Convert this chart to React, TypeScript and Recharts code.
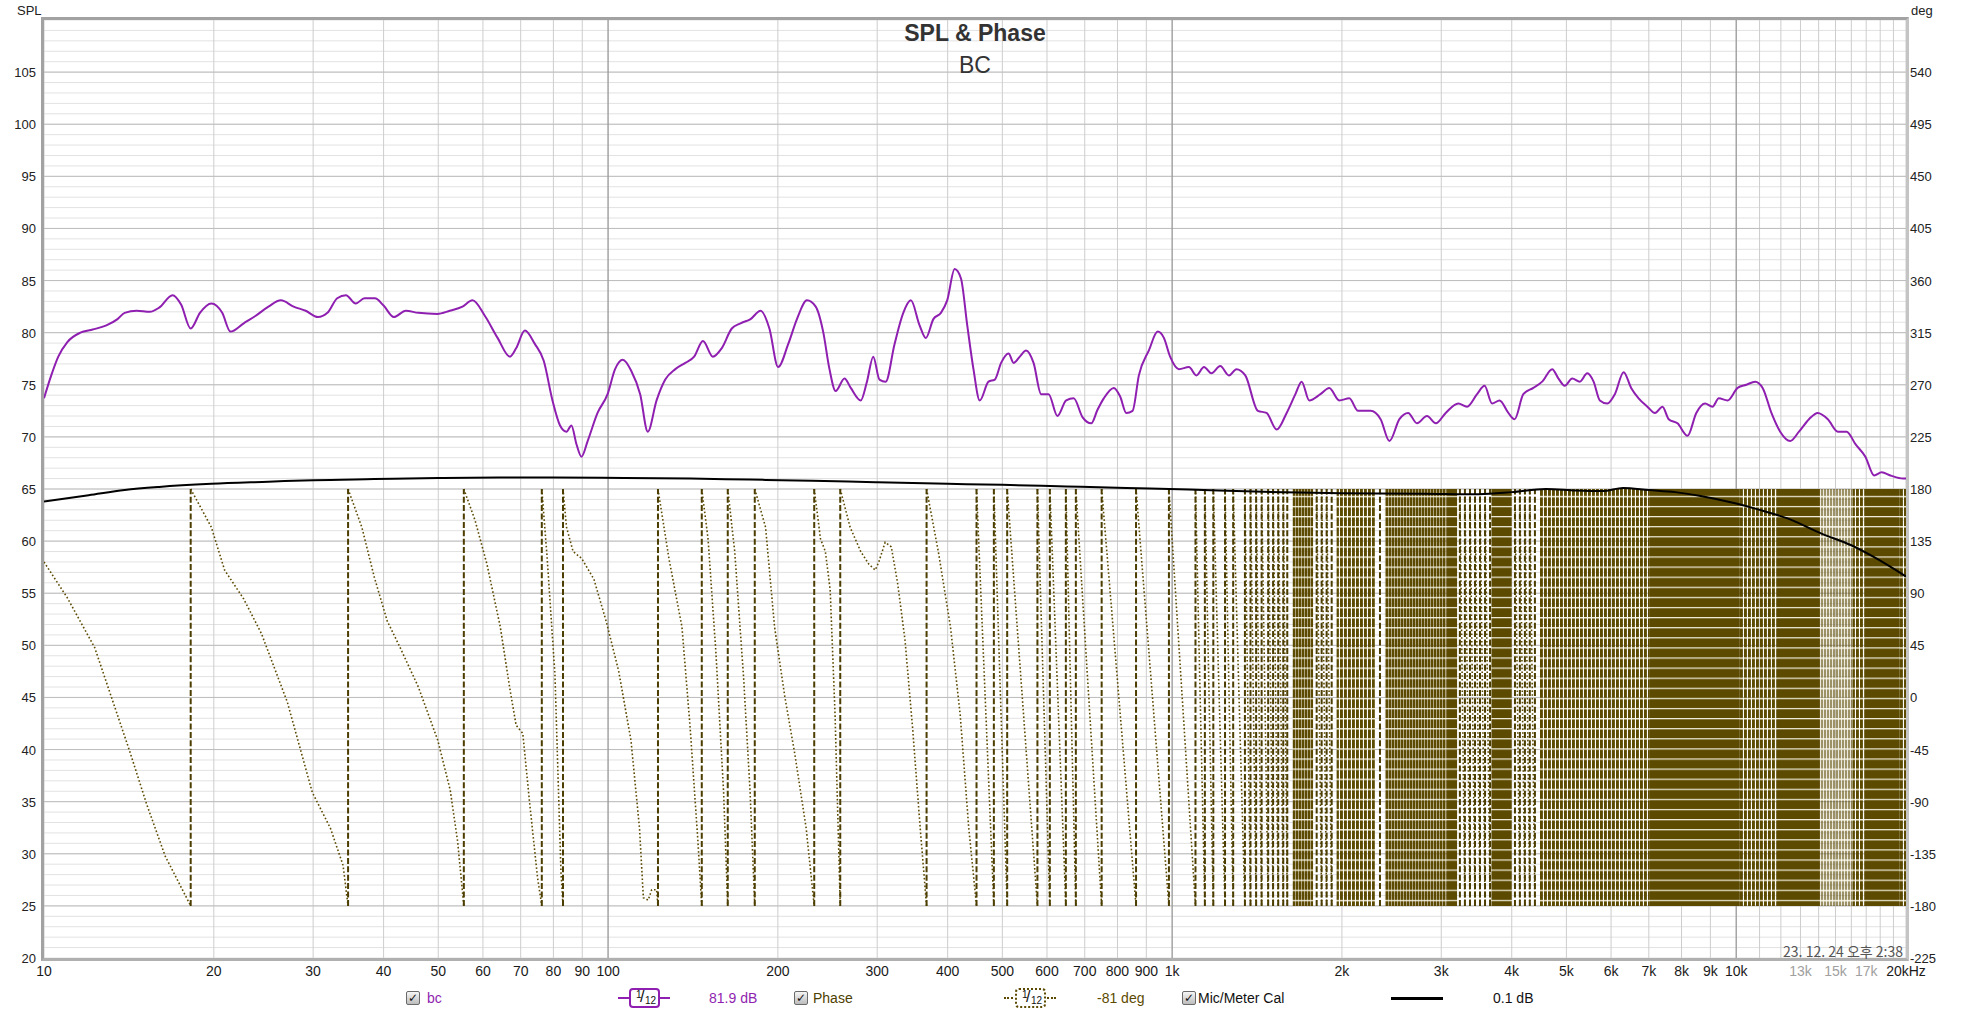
import React from 'react'
import { ComposedChart, Line, Area, XAxis, YAxis, CartesianGrid } from 'recharts'

const W = 1962
const H = 1015
const OLIVE = '#5c4a00'
const PURPLE = '#8f1fb0'
const NARROW = '"Liberation Sans Narrow", "Liberation Sans", Arial, sans-serif'
const SANS = '"Liberation Sans", Arial, sans-serif'

// SPL trace, [Hz, dB]
const splPoints: [number, number][] = [
  [10, 73.7], [10.3, 75.9], [10.6, 77.7], [11.0, 79.1], [11.6, 80.0], [12.2, 80.3], [12.9, 80.7],
  [13.5, 81.3], [13.9, 81.9], [14.6, 82.1], [15.4, 82.0], [16.0, 82.4], [16.9, 83.6], [17.5, 82.7],
  [18.2, 80.4], [18.9, 81.9], [19.8, 82.8], [20.7, 81.9], [21.4, 80.1], [22.6, 80.9], [23.7, 81.6],
  [25.0, 82.5], [26.3, 83.1], [27.7, 82.5], [29.1, 82.1], [30.6, 81.5], [31.8, 81.9], [33.1, 83.3],
  [34.3, 83.6], [35.7, 82.8], [37.0, 83.3], [38.6, 83.3], [40.0, 82.6], [41.7, 81.5], [43.8, 82.1],
  [46.1, 81.9], [49.8, 81.8], [52.4, 82.1], [55.2, 82.5], [57.5, 83.1], [60.5, 81.6], [63.7, 79.5],
  [67.0, 77.7], [68.7, 78.5], [71.2, 80.2], [74.2, 78.9], [76.9, 77.3], [79.7, 73.5], [82.2, 71.1],
  [84.4, 70.5], [86.1, 71.1], [87.9, 69.3], [89.7, 68.1], [92.0, 69.6], [95.8, 72.3], [99.8, 74.1],
  [102.9, 76.5], [106.2, 77.4], [110, 76.3], [114, 74.1], [117.6, 70.5], [121.9, 73.5], [126.3, 75.5],
  [131.6, 76.5], [137.1, 77.1], [142.1, 77.7], [147.3, 79.2], [153.4, 77.7], [159, 78.5], [165.7, 80.4],
  [171.7, 80.9], [178.9, 81.3], [186.4, 82.1], [193.2, 80.4], [200.2, 76.7], [208.6, 78.9], [216.2, 81.3],
  [225.2, 83.1], [233.4, 82.5], [240.6, 80.1], [246.9, 76.5], [253.2, 74.4], [262.5, 75.6], [269.3, 74.7],
  [280.5, 73.5], [287.7, 75.3], [295.2, 77.7], [302.8, 75.5], [310.6, 75.3], [322, 78.9], [333.7, 81.9],
  [344.2, 83.1], [356.7, 80.7], [365.9, 79.5], [377.3, 81.3], [389.1, 81.9], [399.2, 83.1], [411.6, 86.1],
  [422.3, 85.2], [433.3, 80.7], [444.4, 76.5], [456, 73.5], [472.6, 75.3], [484.9, 75.5], [497.5, 77.1],
  [512.9, 78.0], [523.5, 77.1], [537, 77.7], [550.8, 78.3], [568, 77.1], [585.8, 74.1], [604, 74.1],
  [626, 72.0], [648.9, 73.5], [669.1, 73.7], [693.5, 71.9], [718.8, 71.3], [737.4, 72.6], [756.5, 73.7],
  [788.1, 74.7], [808.5, 73.9], [829.4, 72.3], [850.9, 72.5], [873, 75.9], [909.5, 78.3], [942.7, 80.1],
  [966.9, 79.5], [991.8, 77.7], [1028, 76.5], [1071, 76.7], [1104, 75.9], [1139, 76.7], [1174, 76.1],
  [1217, 76.8], [1261, 75.9], [1300, 76.5], [1348, 75.9], [1419, 72.5], [1470, 72.3], [1532, 70.7],
  [1596, 72.3], [1654, 74.1], [1697, 75.3], [1750, 73.5], [1832, 74.1], [1899, 74.7], [1979, 73.5],
  [2061, 73.7], [2136, 72.5], [2248, 72.5], [2342, 71.7], [2428, 69.6], [2529, 71.7], [2621, 72.3],
  [2717, 71.3], [2830, 72.0], [2934, 71.3], [3055, 72.3], [3216, 73.2], [3333, 72.9], [3472, 74.1],
  [3580, 74.9], [3692, 73.2], [3806, 73.5], [3945, 72.3], [4047, 71.7], [4194, 74.1], [4369, 74.7],
  [4529, 75.3], [4718, 76.5], [4841, 75.6], [4966, 74.9], [5121, 75.6], [5281, 75.3], [5445, 76.1],
  [5587, 75.3], [5731, 73.5], [5910, 73.2], [6094, 74.1], [6316, 76.2], [6513, 74.7], [6714, 73.7],
  [6960, 72.9], [7178, 72.3], [7401, 72.9], [7592, 71.7], [7870, 71.3], [8198, 70.1], [8497, 72.3],
  [8807, 73.2], [9078, 72.9], [9314, 73.7], [9654, 73.5], [10058, 74.7], [10424, 75.0], [10804, 75.3],
  [11140, 74.7], [11546, 72.3], [11967, 70.5], [12467, 69.6], [12921, 70.5], [13461, 71.7], [13951, 72.3],
  [14536, 71.7], [15145, 70.5], [15698, 70.5], [16271, 69.3], [16943, 68.1], [17562, 66.3], [18109, 66.6],
  [18771, 66.3], [19754, 66.0], [20000, 66.0],
]

// Mic/Meter Cal trace, [Hz, dB]
const calPoints: [number, number][] = [
  [10, 63.8], [12, 64.4], [13.9, 64.9], [16, 65.2], [19.8, 65.5], [25, 65.7], [30, 65.85], [38.5, 65.95],
  [50, 66.05], [64, 66.1], [80, 66.1], [107, 66.05], [140, 66.0], [178, 65.9], [230, 65.8], [298, 65.65],
  [400, 65.5], [500, 65.4], [650, 65.25], [830, 65.1], [1070, 64.95], [1400, 64.75], [2000, 64.6],
  [2800, 64.55], [3500, 64.5], [4000, 64.7], [4600, 65.0], [5200, 64.85], [5800, 64.8], [6300, 65.1],
  [7000, 64.9], [7800, 64.7], [8600, 64.35], [10000, 63.6], [11000, 63.0], [12300, 62.2], [14200, 60.7],
  [16000, 59.6], [17500, 58.5], [20000, 56.6],
]

// phase curve between wraps, [Hz, deg]; each run ends at -180
const phaseRuns: [number, number][][] = [
  [[10, 117], [11, 86], [12.3, 43], [14.2, -47], [15.2, -92], [16.4, -137], [18.2, -180]],
  [[18.2, 180], [19.8, 147], [20.9, 110], [22.6, 85], [24.3, 55], [27, -4], [29.9, -82], [32.2, -113], [33.9, -145], [34.6, -180]],
  [[34.6, 180], [36.6, 147], [38.5, 104], [40.6, 66], [42.7, 44], [46.1, 9], [49.9, -37], [52.5, -80], [54.1, -124], [55.5, -180]],
  [[55.5, 180], [58.1, 153], [61, 115], [64.4, 61], [67, 7], [68.7, -24], [70.6, -31], [72.6, -91], [75, -156], [76.3, -180]],
  [[76.3, 180], [78, 120], [80.5, 20], [82.5, -150], [83.2, -180]],
  [[83.2, 180], [84.4, 147], [86.7, 126], [89.8, 120], [94.4, 102], [99.2, 66], [104.4, 23], [109.8, -37], [113.7, -113], [115.5, -173], [117.8, -175], [119.5, -166], [121.9, -166], [122.6, -180]],
  [[122.6, 180], [128.2, 120], [135.2, 61], [139.8, -26], [144.3, -124], [146.6, -180]],
  [[146.6, 180], [150.4, 137], [155.3, 39], [160.2, -80], [163, -180]],
  [[163, 180], [167.7, 126], [173.9, 17], [178.5, -80], [182, -180]],
  [[182, 180], [190.2, 147], [197.3, 61], [205.7, 1], [214.2, -48], [224.5, -113], [232, -180]],
  [[232, 180], [238, 137], [242.8, 126], [247.6, 93], [252.6, -15], [258, -180]],
  [[258, 180], [268.6, 147], [280.5, 126], [290, 115], [297.6, 110], [302, 117], [309.9, 134], [317.8, 130], [326, 99], [336, 50], [346.6, -26], [357.6, -113], [367, -180]],
  [[367, 180], [385, 126], [404.6, 61], [421, -15], [436, -113], [450, -180]],
]

// frequencies where the phase wraps from -180 to +180
const phaseWraps = [
  18.2, 34.6, 55.5, 76.3, 83.2, 122.6, 146.6, 163, 182, 232, 258, 367, 450, 483, 510, 577, 607, 648, 675,
  750, 863, 987, 1100, 1143, 1183, 1241, 1283, 1346, 1377, 1409, 1441, 1480, 1510, 1542, 1574, 1600,
  1804, 1841, 1879, 1918, 2336, 3237, 3304, 3373, 3443, 3514, 3587, 3661, 4053, 4135, 4221, 4306, 4397,
]

// ranges where the wraps are too close to tell apart
const phaseBands: [number, number, string][] = [
  [1635, 1778, 'dense'], [1957, 2288, 'lines'], [2384, 3067, 'dense'], [3067, 3200, 'solid'],
  [3682, 4000, 'solid'], [4487, 7030, 'lines'], [7030, 10150, 'solid'], [10150, 11800, 'lines'],
  [11800, 14075, 'solid'], [14075, 16100, 'light'], [16100, 16900, 'lines'], [16900, 19500, 'solid'],
  [19500, 20000, 'lines'],
]

const freqTicks = [
  10, 20, 30, 40, 50, 60, 70, 80, 90, 100, 200, 300, 400, 500, 600, 700, 800, 900, 1000,
  2000, 3000, 4000, 5000, 6000, 7000, 8000, 9000, 10000, 11000, 12000, 13000, 14000, 15000,
  16000, 17000, 18000, 19000, 20000,
]
const freqLabels: Record<number, string> = {
  1000: '1k', 2000: '2k', 3000: '3k', 4000: '4k', 5000: '5k', 6000: '6k', 7000: '7k', 8000: '8k',
  9000: '9k', 10000: '10k', 13000: '13k', 15000: '15k', 17000: '17k', 20000: '20kHz',
}
const greyFreqs = [13000, 15000, 17000]
const decadeLines = [100, 1000, 10000]
const dbTicks = Array.from({ length: 91 }, (_, i) => 20 + i)
const dbMajor = [25, 30, 35, 40, 45, 50, 55, 60, 65, 70, 75, 80, 85, 90, 95, 100, 105]
const degTicks = [-225, -180, -135, -90, -45, 0, 45, 90, 135, 180, 225, 270, 315, 360, 405, 450, 495, 540]

const splData = splPoints.map(([f, db]) => ({ f, db }))
const calData = calPoints.map(([f, db]) => ({ f, db }))

const slopeData: { f: number; deg: number | null }[] = []
phaseRuns.forEach((run) => {
  run.forEach(([f, deg]) => slopeData.push({ f, deg }))
  slopeData.push({ f: run[run.length - 1][0], deg: null })
})
// straight runs between the read wraps above 450 Hz
phaseWraps.forEach((f, i) => {
  const next = phaseWraps[i + 1]
  if (f < 450 || next === undefined) return
  if (phaseBands.some(([a]) => a > f && a < next)) return
  slopeData.push({ f, deg: 180 }, { f: next, deg: -180 }, { f: next, deg: null })
})

const wrapData: { f: number; deg: number | null }[] = []
phaseWraps.forEach((f) => {
  wrapData.push({ f, deg: -180 }, { f, deg: 180 }, { f, deg: null })
})

const FreqTick = (props: any) => {
  const { x, y, payload } = props
  const v = payload.value
  let label = freqLabels[v]
  if (!label && v <= 900) label = String(v)
  if (!label) return null
  return (
    <text x={x} y={y} dy={10} textAnchor="middle" fontSize={14} fontFamily={NARROW}
      fill={greyFreqs.includes(v) ? '#a0a0a0' : '#1a1a1a'}>
      {label}
    </text>
  )
}

const DbTick = (props: any) => {
  const { x, y, payload } = props
  const v = payload.value
  if (v % 5 !== 0 || v >= 110) return null
  return (
    <text x={x} y={y} dy={5} textAnchor="end" fontSize={13} fontFamily={SANS} fill="#222">{v}</text>
  )
}

const DegTick = (props: any) => {
  const { x, y, payload } = props
  return (
    <text x={x} y={y} dy={5} textAnchor="start" fontSize={13} fontFamily={SANS} fill="#222">{payload.value}</text>
  )
}

function CheckBox({ left }: { left: number }) {
  return (
    <div style={{
      position: 'absolute', left, top: 991, width: 12, height: 12, border: '1px solid #6a6a6a',
      borderRadius: 2, background: 'linear-gradient(#f6f6f6, #bcbcbc)', fontSize: 12, lineHeight: '12px',
      textAlign: 'center', fontWeight: 'bold', color: '#111', fontFamily: '"DejaVu Sans", sans-serif',
    }}>✓</div>
  )
}

function Smoothing({ left, color, dotted }: { left: number; color: string; dotted?: boolean }) {
  const style = dotted ? 'dotted' : 'solid'
  return (
    <div style={{ position: 'absolute', left, top: 988, width: 52, height: 20 }}>
      <div style={{ position: 'absolute', left: 0, top: 9, width: 52, height: 0, borderTop: `2px ${style} ${color}` }} />
      <div style={{
        position: 'absolute', left: 11, top: 0, width: 27, height: 16, border: `2px ${style} ${color}`,
        borderRadius: 4, background: '#fff', fontFamily: SANS, color: '#111',
      }}>
        <span style={{ position: 'absolute', left: 5, top: -1, fontSize: 10 }}>1</span>
        <span style={{ position: 'absolute', left: 9, top: -2, fontSize: 16 }}>/</span>
        <span style={{ position: 'absolute', left: 14, top: 5, fontSize: 10 }}>12</span>
      </div>
    </div>
  )
}

const legendText = (left: number, color: string, text: string) => (
  <div style={{ position: 'absolute', left, top: 990, fontSize: 14, fontFamily: NARROW, color, whiteSpace: 'nowrap' }}>
    {text}
  </div>
)

export default function App() {
  return (
    <div style={{ position: 'absolute', left: 0, top: 0, width: W, height: H, background: '#fff', overflow: 'hidden' }}>
      <ComposedChart width={W} height={H} margin={{ top: 20, right: 0, bottom: 0, left: 0 }}>
        <defs>
          <pattern id="phSolid" width="4" height="10.1" patternUnits="userSpaceOnUse">
            <rect width="4" height="10.1" fill={OLIVE} />
            <rect y="1" width="4" height="1.1" fill="#fffdf0" />
          </pattern>
          <pattern id="phDense" width="3" height="10.1" patternUnits="userSpaceOnUse">
            <rect width="2.5" height="10.1" fill={OLIVE} />
            <rect y="1" width="3" height="1.2" fill="#fffdf0" />
          </pattern>
          <pattern id="phLines" width="4" height="10.1" patternUnits="userSpaceOnUse">
            <rect width="2.9" height="10.1" fill={OLIVE} />
            <rect y="1" width="4" height="1.3" fill="#fffdf0" />
          </pattern>
          <pattern id="phLight" width="3" height="10.1" patternUnits="userSpaceOnUse">
            <rect width="2.2" height="10.1" fill={OLIVE} fillOpacity={0.6} />
            <rect y="1" width="3" height="1.4" fill="#fffdf0" />
          </pattern>
        </defs>
        <CartesianGrid vertical={false} stroke="#e2e2e2" />
        <CartesianGrid horizontal={false} stroke="#cdcdcd" />
        <CartesianGrid vertical={false} horizontalValues={dbMajor} stroke="#bdbdbd" />
        <CartesianGrid horizontal={false} verticalValues={decadeLines} stroke="#8e8e8e" />
        <XAxis dataKey="f" type="number" scale="log" domain={[10, 20000]} allowDataOverflow
          ticks={freqTicks} interval={0} height={57} axisLine={false} tickLine={false}
          tickSize={6} tickMargin={2} tick={<FreqTick />} />
        <YAxis type="number" domain={[20, 110]} allowDataOverflow ticks={dbTicks} interval={0}
          width={44} axisLine={false} tickLine={false} tickSize={6} tickMargin={2} tick={<DbTick />} />
        <YAxis yAxisId="deg" orientation="right" type="number" domain={[-225, 585]} allowDataOverflow
          ticks={degTicks} interval={0} width={56} axisLine={false} tickLine={false} tickSize={4}
          tickMargin={0} tick={<DegTick />} />

        {phaseBands.map(([a, b, kind], i) => (
          <Area key={`band-${i}`} yAxisId="deg" data={[{ f: a, r: [-180, 180] }, { f: b, r: [-180, 180] }]}
            dataKey="r" type="linear" stroke="none"
            fill={`url(#ph${kind[0].toUpperCase()}${kind.slice(1)})`} fillOpacity={1}
            dot={false} activeDot={false} isAnimationActive={false} />
        ))}

        <Line yAxisId="deg" data={slopeData} dataKey="deg" type="linear" stroke={OLIVE} strokeWidth={1.6}
          strokeDasharray="1.6 2.2" dot={false} activeDot={false} isAnimationActive={false} />
        <Line yAxisId="deg" data={wrapData} dataKey="deg" type="linear" stroke="#4c3d00" strokeWidth={2}
          strokeDasharray="6 2.4" dot={false} activeDot={false} isAnimationActive={false} />

        <Line data={calData} dataKey="db" type="monotone" stroke="#000" strokeWidth={2}
          dot={false} activeDot={false} isAnimationActive={false} />
        <Line data={splData} dataKey="db" type="monotone" stroke={PURPLE} strokeWidth={2}
          dot={false} activeDot={false} isAnimationActive={false} />
      </ComposedChart>

      {/* plot frame */}
      <div style={{
        position: 'absolute', left: 41, top: 17, width: 1868, height: 944, boxSizing: 'border-box',
        borderStyle: 'solid', borderWidth: 3, borderColor: '#a2a2a2 #c4c4c4 #b0b0b0 #a2a2a2', pointerEvents: 'none',
      }} />

      <div style={{ position: 'absolute', left: 17, top: 3, fontSize: 13, fontFamily: SANS, color: '#222' }}>SPL</div>
      <div style={{ position: 'absolute', left: 1911, top: 3, fontSize: 13, fontFamily: SANS, color: '#222' }}>deg</div>

      <div style={{
        position: 'absolute', left: 775, width: 400, top: 20, textAlign: 'center', fontSize: 23,
        fontWeight: 'bold', fontFamily: SANS, color: '#333',
      }}>SPL &amp; Phase</div>
      <div style={{
        position: 'absolute', left: 775, width: 400, top: 52, textAlign: 'center', fontSize: 23,
        fontFamily: SANS, color: '#333',
      }}>BC</div>

      <div style={{
        position: 'absolute', right: 1962 - 1903, top: 941, fontSize: 14, whiteSpace: 'nowrap',
        fontFamily: '"Liberation Sans Narrow", "Noto Sans CJK KR", sans-serif', color: '#555',
      }}>23. 12. 24 오후 2:38</div>

      <CheckBox left={406} />
      {legendText(427, PURPLE, 'bc')}
      <Smoothing left={618} color={PURPLE} />
      {legendText(709, PURPLE, '81.9 dB')}
      <CheckBox left={794} />
      {legendText(813, '#4d4000', 'Phase')}
      <Smoothing left={1004} color={OLIVE} dotted />
      {legendText(1097, '#5c4a00', '-81 deg')}
      <CheckBox left={1182} />
      {legendText(1198, '#111', 'Mic/Meter Cal')}
      <div style={{ position: 'absolute', left: 1391, top: 997, width: 52, height: 3, background: '#000' }} />
      {legendText(1493, '#111', '0.1 dB')}
    </div>
  )
}
